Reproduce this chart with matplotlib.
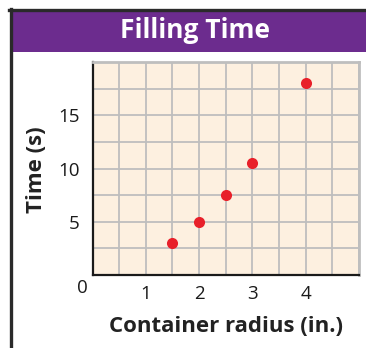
import matplotlib
matplotlib.use("Agg")
import matplotlib.pyplot as plt
from matplotlib.patches import Rectangle
from matplotlib.lines import Line2D
from matplotlib.ticker import MultipleLocator

# Data
radius = [1.5, 2.0, 2.5, 3.0, 4.0]
fill_time = [3.0, 5.0, 7.5, 10.5, 18.0]
x_ticks = [1, 2, 3, 4]
y_ticks = [5, 10, 15]
title = "Filling Time"
x_label = "Container radius (in.)"
y_label = "Time (s)"

W, H = 366, 348
DPI = 100
FONT = "Open Sans"

fig = plt.figure(figsize=(W / DPI, H / DPI), dpi=DPI)
fig.patch.set_facecolor("white")


def fx(px):
    return px / W


def fy(py):
    return 1 - py / H


# Frame and header banner
purple = "#6C2C8E"
fig.patches.append(Rectangle((fx(11), fy(52)), fx(W - 11), fy(10) - fy(52),
                             transform=fig.transFigure, facecolor=purple,
                             edgecolor="none", zorder=1))
fig.lines.append(Line2D([fx(10.5), fx(10.5)], [fy(9), fy(H)], transform=fig.transFigure,
                        color="#2a2a2a", lw=2.4, zorder=3))
fig.lines.append(Line2D([fx(9.3), fx(W)], [fy(9.5), fy(9.5)], transform=fig.transFigure,
                        color="#2a2a2a", lw=2.4, zorder=3))
fig.text(fx(195), fy(31), title, color="white", fontsize=19, fontweight="bold",
         family=FONT, ha="center", va="center")

# Plot area
left, right, top, bottom = 92.5, 359, 62, 275
ax = fig.add_axes([fx(left), fy(bottom), fx(right - left), fy(top) - fy(bottom)])
ax.set_facecolor("#FDF0E0")
ax.set_xlim(0, 5)
ax.set_ylim(0, 20)
ax.xaxis.set_minor_locator(MultipleLocator(0.5))
ax.yaxis.set_minor_locator(MultipleLocator(2.5))
ax.grid(which="both", color="#BEBEBE", lw=1.3, zorder=0)
ax.set_axisbelow(True)

for side in ["top", "right"]:
    ax.spines[side].set_color("#BEBEBE")
    ax.spines[side].set_linewidth(2)
for side in ["left", "bottom"]:
    ax.spines[side].set_color("#1a1a1a")
    ax.spines[side].set_linewidth(1.6)

ax.set_xticks(x_ticks)
ax.set_yticks(y_ticks)
ax.tick_params(which="both", length=0)
ax.tick_params(axis="x", pad=7, labelsize=13.5, colors="#1a1a1a")
ax.tick_params(axis="y", pad=9, labelsize=13.5, colors="#1a1a1a")
for lab in ax.get_xticklabels() + ax.get_yticklabels():
    lab.set_family(FONT)

fig.text(fx(82), fy(288), "0", fontsize=13.5, family=FONT, color="#1a1a1a",
         ha="center", va="center")

ax.plot(radius, fill_time, "o", color="#E8202A", ms=8, mec="none", zorder=5,
        clip_on=False)

fig.text(fx(226), fy(326), x_label, fontsize=16, fontweight="bold", family=FONT,
         color="#222222", ha="center", va="center")
fig.text(fx(37), fy(170), y_label, fontsize=16, fontweight="bold", family=FONT,
         color="#222222", ha="center", va="center", rotation=90)

fig.savefig("out.png", dpi=DPI)
